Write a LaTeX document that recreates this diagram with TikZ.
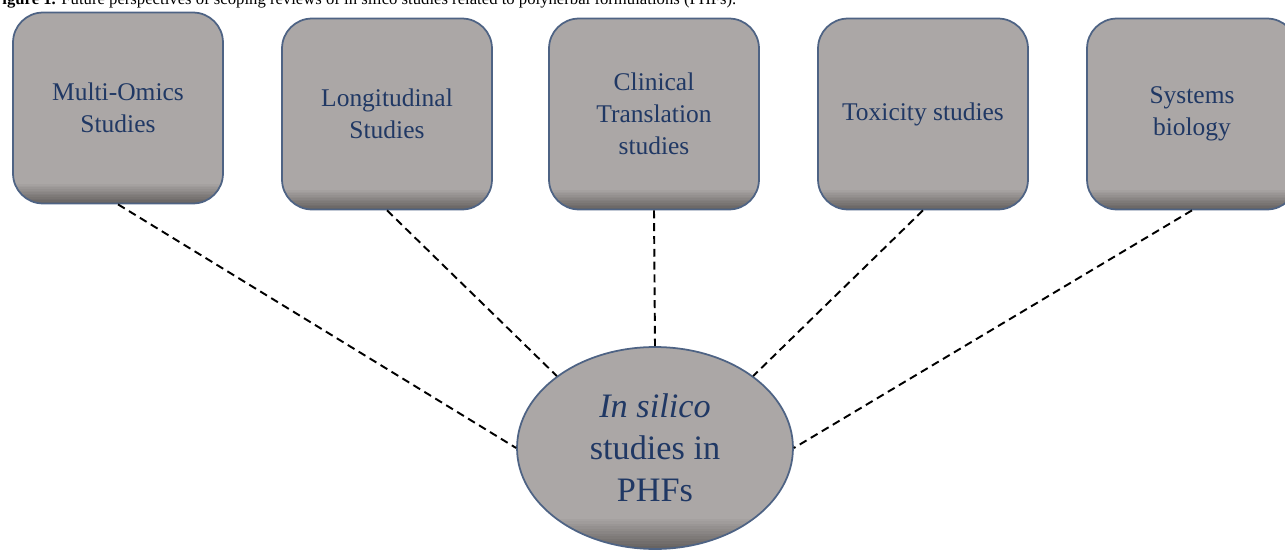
\documentclass[tikz,border=0pt]{standalone}
\usepackage{fontspec}
\setmainfont{Liberation Serif}
\usetikzlibrary{shapes.geometric}
\definecolor{phfgrey}{HTML}{ABA7A6}
\definecolor{phfshade}{HTML}{5A5654}
\definecolor{phfline}{HTML}{4E6384}
\definecolor{phftext}{HTML}{203864}
\begin{document}
\begin{tikzpicture}[x=0.02cm,y=-0.02cm,
  lowshade/.style={path picture={\foreach \k [evaluate=\k as \pc using int(\k*7)] in {1,...,12}
    \fill[sharp corners,phfshade!\pc!phfgrey] ([yshift=(13-\k)*#1]path picture bounding box.south west)
      rectangle (path picture bounding box.south east);}},
  topic/.style={draw=phfline,line width=1pt,fill=phfgrey,rounded corners=0.6cm,
    minimum width=4.2cm,minimum height=3.82cm,inner sep=0pt,align=center,text=phftext,
    font=\fontsize{14.5}{18.2}\selectfont,lowshade=0.032cm},
  hub/.style={ellipse,draw=phfline,line width=1pt,fill=phfgrey,
    minimum width=5.52cm,minimum height=4.04cm,inner sep=0pt,align=center,text=phftext,
    font=\fontsize{19.5}{23.8}\selectfont,lowshade=0.05cm},
  link/.style={line width=1.1pt,dash pattern=on 4.5pt off 2.8pt}]
\useasboundingbox (0,0) rectangle (1285,551);
\clip (0,0) rectangle (1285,551);
% caption, cut by the top edge
\node[anchor=base west,font=\fontsize{9.5}{11}\selectfont] (caption) at (-14,5)
  {\textbf{Figure 1.} Future perspectives of scoping reviews of in silico studies related to polyherbal formulations (PHFs).};
% topics
\node[topic] (omics) at (118,108) {Multi-Omics\\Studies};
\node[topic] (longi) at (387,114) {Longitudinal\\Studies};
\node[topic] (clin) at (654,114) {Clinical\\Translation\\studies};
\node[topic] (tox) at (923,114) {Toxicity studies};
\node[topic] (sysbio) at (1192,114) {Systems\\biology};
% centre
\node[hub] (phf) at (655,448) {\textit{In silico}\\studies in\\PHFs};
% links
\draw[link] (omics.south) -- (phf.west);
\draw[link] (longi.south) -- (phf.north west);
\draw[link] (clin.south) -- (phf.north);
\draw[link] (tox.south) -- (phf.north east);
\draw[link] (sysbio.south) -- (phf.east);
\end{tikzpicture}
\end{document}
